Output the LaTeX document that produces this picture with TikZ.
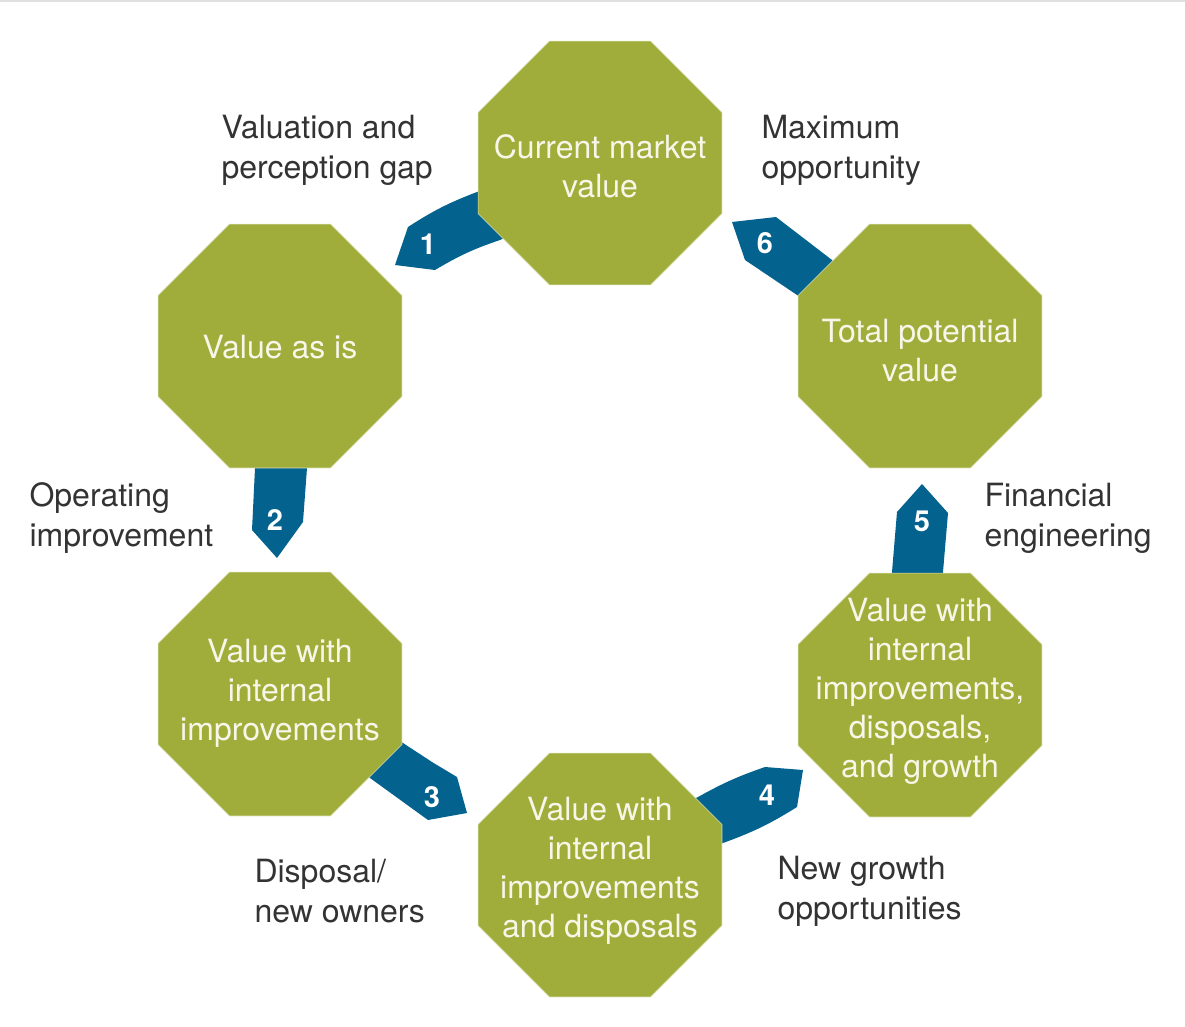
\documentclass[tikz,border=0pt]{standalone}
\usepackage{fontspec}
\setmainfont{TeX Gyre Heros}
\usetikzlibrary{shapes.geometric}
\definecolor{olivebox}{HTML}{A0AD3A}
\definecolor{bluearrow}{HTML}{04628F}
\definecolor{labeltext}{HTML}{333333}
\definecolor{boxtext}{HTML}{F7F6E8}
\begin{document}
\begin{tikzpicture}[x=1pt,y=-1pt,
  oct/.style={regular polygon, regular polygon sides=8, minimum size=264pt, inner sep=0pt, fill=olivebox, draw=boxtext!70!olivebox, line width=0.6pt},
  octtext/.style={align=center, text=boxtext, font=\fontsize{32}{39}\selectfont},
  lbl/.style={align=left, anchor=west, text=labeltext, font=\fontsize{32}{40}\selectfont},
  arrowbody/.style={fill=bluearrow},
  num/.style={text=white, font=\fontsize{29}{30}\selectfont\bfseries}]
\useasboundingbox (0,0) rectangle (1185,1027);
\draw[black!12, line width=1.5pt] (0,1) -- (1185,1);

% arrows (drawn first, partly under the octagons)
\fill[arrowbody] (535,176) -- (477,192) to[bend right=6] (408,227) -- (395,265) -- (435,270) to[bend left=6] (500,240) -- (540,220) -- cycle;
\fill[arrowbody] (256,430) -- (255,468) -- (252,530) -- (277,558) -- (303,522) -- (307,468) -- (308,430) -- cycle;
\fill[arrowbody] (385,730) -- (403,743) -- (432,762) -- (457,777) -- (467,813) -- (428,820) -- (370,778) -- (355,765) -- cycle;
\fill[arrowbody] (675,808) -- (698,797) to[bend left=5] (765,767) -- (803,770) -- (797,807) to[bend left=6] (723,843) -- (690,858) -- cycle;
\fill[arrowbody] (891,610) -- (892,572) -- (897,512) -- (922,484) -- (948,513) -- (943,572) -- (942,610) -- cycle;
\fill[arrowbody] (732,222) -- (776,217) -- (832,260) -- (850,280) -- (815,310) -- (800,297) -- (745,260) -- cycle;

% octagons
\node[oct] (o1) at (600,163) {};
\node[oct] (o2) at (280,346) {};
\node[oct] (o3) at (280,694) {};
\node[oct] (o4) at (600,875) {};
\node[oct] (o5) at (920,695) {};
\node[oct] (o6) at (920,346) {};

\node[octtext] (t1) at (600,166) {Current market\\value};
\node[octtext] (t2) at (280,347) {Value as is};
\node[octtext] (t3) at (280,693) {Value with\\internal\\improvements};
\node[octtext] (t4) at (600,871) {Value with\\internal\\improvements\\and disposals};
\node[octtext] (t5) at (920,691) {Value with\\internal\\improvements,\\disposals,\\and growth};
\node[octtext] (t6) at (920,351) {Total potential\\value};

% numbers
\node[num] (n1) at (428,244) {1};
\node[num] (n2) at (275,520) {2};
\node[num] (n3) at (432,797) {3};
\node[num] (n4) at (767,795) {4};
\node[num] (n5) at (922,521) {5};
\node[num] (n6) at (765,243) {6};

% labels
\node[lbl] (l1) at (218,150) {Valuation and\\perception gap};
\node[lbl] (l6) at (758,150) {Maximum\\opportunity};
\node[lbl] (l2) at (26,518) {Operating\\improvement};
\node[lbl] (l5) at (981,518) {Financial\\engineering};
\node[lbl] (l3) at (251,891) {Disposal/\\new owners};
\node[lbl] (l4) at (774,891) {New growth\\opportunities};
\end{tikzpicture}
\end{document}
